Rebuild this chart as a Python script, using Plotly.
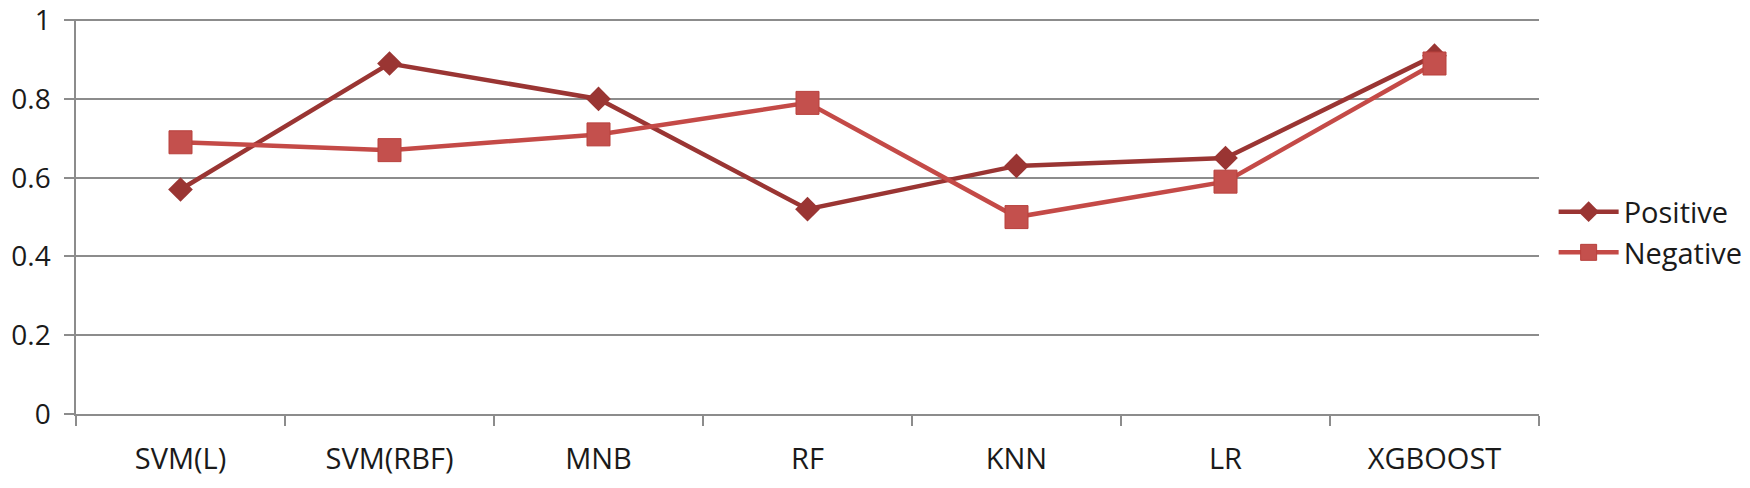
import plotly.graph_objects as go

# classifier names on the x axis
models = ['SVM(L)', 'SVM(RBF)', 'MNB', 'RF', 'KNN', 'LR', 'XGBOOST']

# scores
positive = [0.57, 0.89, 0.80, 0.52, 0.63, 0.65, 0.91]
negative = [0.69, 0.67, 0.71, 0.79, 0.50, 0.59, 0.89]

y_ticks = [0, 0.2, 0.4, 0.6, 0.8, 1]
y_labels = ['0', '0.2', '0.4', '0.6', '0.8', '1']

FONT = 'Open Sans, Roboto, sans-serif'
GRID = '#8c8c8c'

fig = go.Figure()

fig.add_trace(go.Scatter(x=models, y=positive, name='Positive', mode='lines+markers',
                         line=dict(color='#9a3533', width=4.5),
                         marker=dict(symbol='diamond', size=19, color='#9a3533')))  # dark red diamonds

fig.add_trace(go.Scatter(x=models, y=negative, name='Negative', mode='lines+markers',
                         line=dict(color='#c44a47', width=4.5),
                         marker=dict(symbol='square', size=23, color='#c4504d',
                                     line=dict(color='#b8403d', width=1))))

# the page body adds an 8px margin, so the figure is 8px smaller and shifted back
fig.update_layout(
    width=1742, height=480,
    margin=dict(l=68, r=211, t=11, b=74, autoexpand=False),
    paper_bgcolor='white', plot_bgcolor='white',
    font=dict(family=FONT, color='#1a1a1a'),
    legend=dict(x=1.01, xanchor='left', y=0.46, yanchor='middle',
                font=dict(size=29, family=FONT), tracegroupgap=0, itemwidth=60),
)

fig.update_xaxes(range=[-0.5, 6.5], tickson='boundaries', ticks='outside', ticklen=10,
                 tickcolor=GRID, tickwidth=1.5, showline=True, linecolor=GRID, linewidth=1.5,
                 showgrid=False, tickfont=dict(size=29, family=FONT), ticklabelstandoff=18,
                 automargin=False)

fig.update_yaxes(range=[0, 1.003], tickvals=y_ticks, ticktext=y_labels, ticks='outside', ticklen=10,
                 tickcolor=GRID, tickwidth=1.5, showline=True, linecolor=GRID, linewidth=1.5,
                 showgrid=True, gridcolor=GRID, gridwidth=1.5, zeroline=False,
                 tickfont=dict(size=28, family=FONT), ticklabelstandoff=8,
                 automargin=False, ticklabeloverflow='allow')

fig.write_html("out.html")
